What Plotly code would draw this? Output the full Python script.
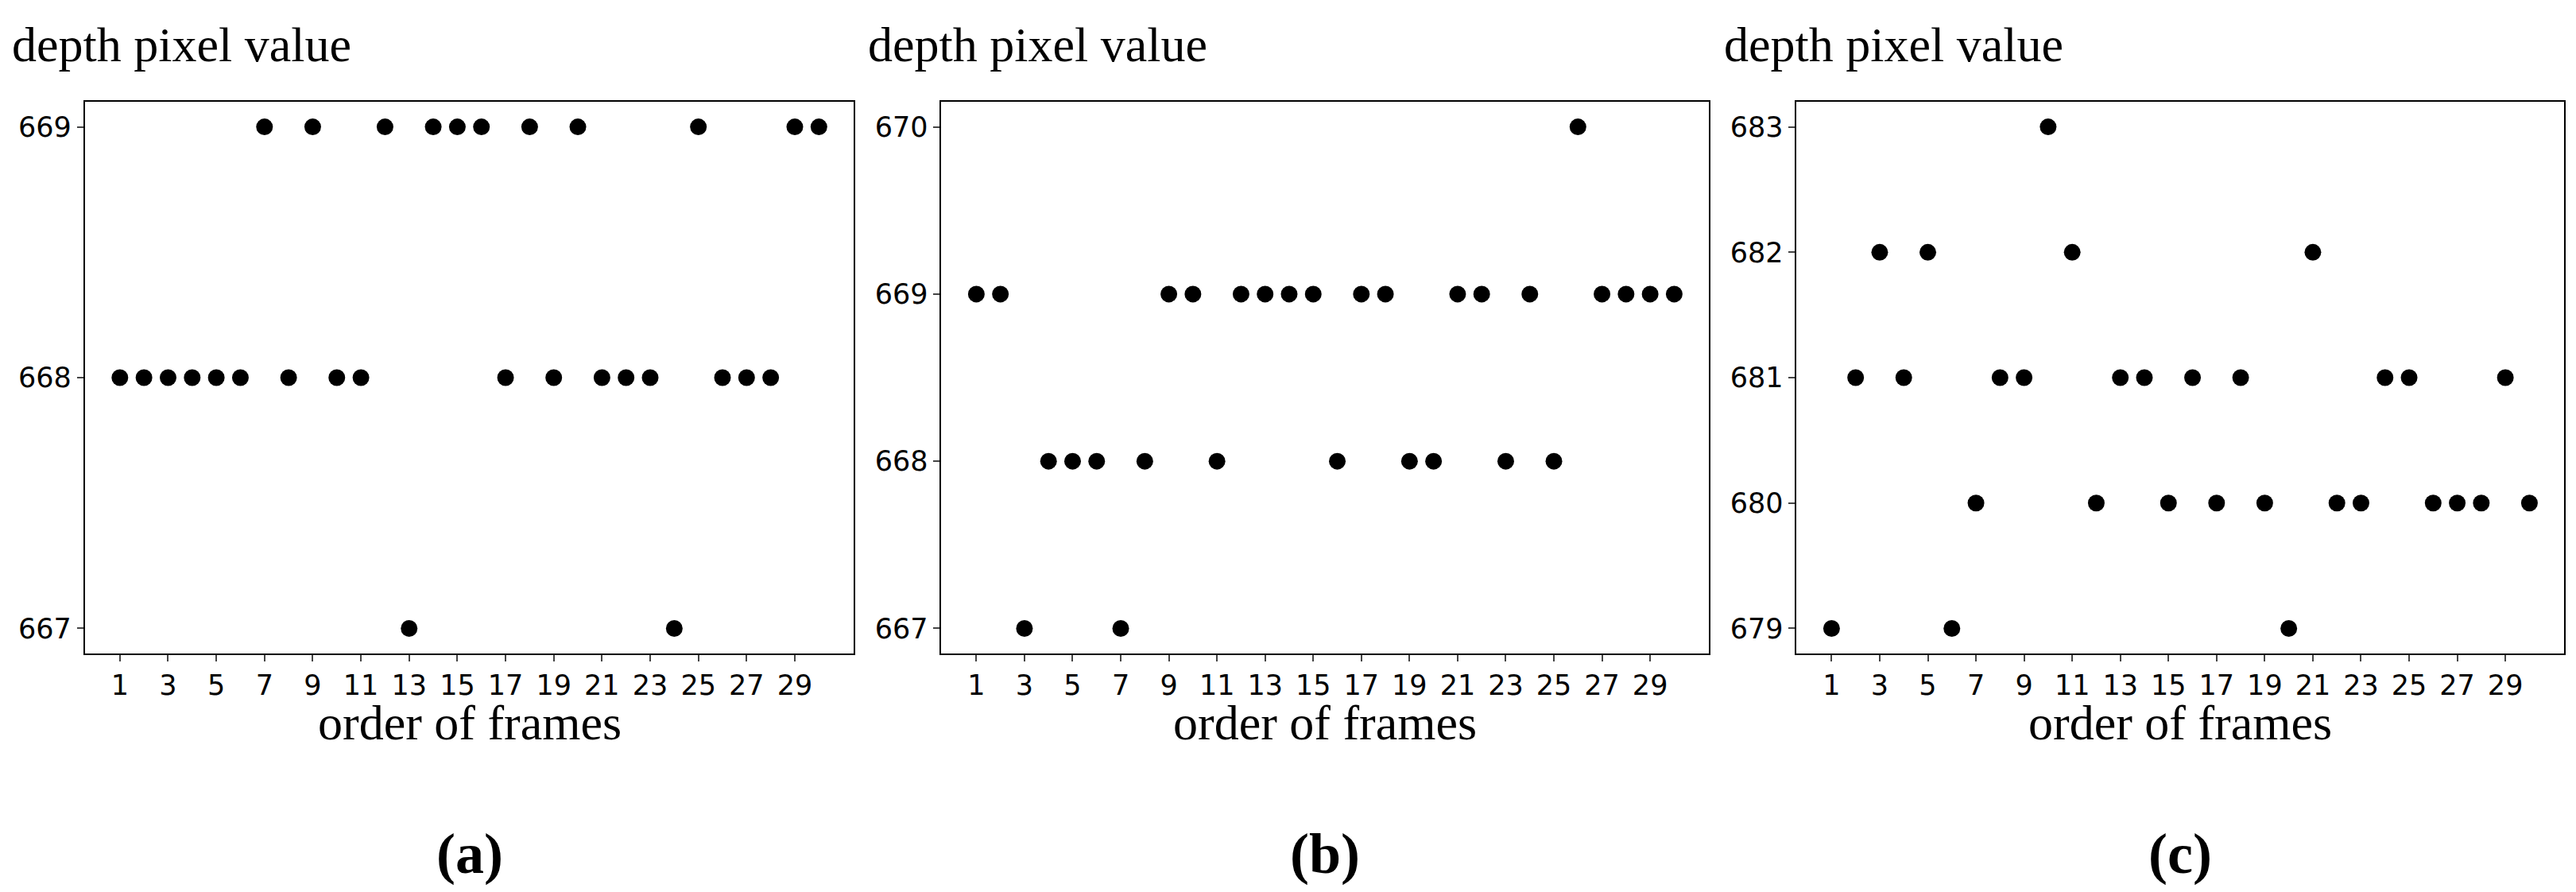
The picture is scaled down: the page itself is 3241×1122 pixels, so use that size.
import plotly.graph_objects as go

frames = list(range(1, 31))
vals_a = [668, 668, 668, 668, 668, 668, 669, 668, 669, 668, 668, 669, 667, 669, 669,
          669, 668, 669, 668, 669, 668, 668, 668, 667, 669, 668, 668, 668, 669, 669]
vals_b = [669, 669, 667, 668, 668, 668, 667, 668, 669, 669, 668, 669, 669, 669, 669,
          668, 669, 669, 668, 668, 669, 669, 668, 669, 668, 670, 669, 669, 669, 669]
vals_c = [679, 681, 682, 681, 682, 679, 680, 681, 681, 683, 682, 680, 681, 681, 680,
          681, 680, 681, 680, 679, 682, 680, 680, 681, 681, 680, 680, 680, 681, 680]
panel_labels = ["(a)", "(b)", "(c)"]
xtick_vals = list(range(1, 31, 2))

fig = go.Figure()
domains = [(0.0305, 0.329), (0.363, 0.661), (0.695, 0.993)]
for i, vals in enumerate([vals_a, vals_b, vals_c]):
    n = "" if i == 0 else str(i + 1)
    fig.add_trace(go.Scatter(x=frames, y=vals, mode="markers", xaxis="x" + n, yaxis="y" + n,
                             marker=dict(color="black", size=21), showlegend=False))
    lo, hi = min(vals), max(vals)
    pad = (hi - lo) * 0.05
    ax = dict(domain=list(domains[i]), range=[1 - 1.45, 30 + 1.45], tickvals=xtick_vals,
              showgrid=False, zeroline=False, showline=True, linecolor="black", linewidth=2,
              mirror=True, ticks="outside", ticklen=8, tickwidth=2,
              tickfont=dict(size=35, family="DejaVu Sans", color="black"), anchor="y" + n)
    ay = dict(domain=[0.2745, 0.893], range=[lo - pad, hi + pad], tickvals=list(range(lo, hi + 1)),
              showgrid=False, zeroline=False, showline=True, linecolor="black", linewidth=2,
              mirror=True, ticks="outside", ticklen=8, tickwidth=2,
              tickfont=dict(size=35, family="DejaVu Sans", color="black"), anchor="x" + n)
    fig.layout["xaxis" + n] = ax
    fig.layout["yaxis" + n] = ay
    x0, x1 = domains[i]
    fig.add_annotation(text="depth pixel value", xref="paper", yref="paper", x=x0 - 0.029, y=0.925,
                       xanchor="left", yanchor="bottom", showarrow=False,
                       font=dict(size=62, family="Liberation Serif", color="black"))
    fig.add_annotation(text="order of frames", xref="paper", yref="paper", x=(x0 + x1) / 2, y=0.165,
                       xanchor="center", yanchor="bottom", showarrow=False,
                       font=dict(size=62, family="Liberation Serif", color="black"))
    fig.add_annotation(text="<b>" + panel_labels[i] + "</b>", xref="paper", yref="paper",
                       x=(x0 + x1) / 2, y=0.05, xanchor="center", yanchor="middle", showarrow=False,
                       font=dict(size=72, family="Liberation Serif", color="black"))

fig.update_layout(width=3241, height=1122, margin=dict(l=0, r=0, t=0, b=0),
                  plot_bgcolor="white", paper_bgcolor="white")
fig.write_html("out.html")
